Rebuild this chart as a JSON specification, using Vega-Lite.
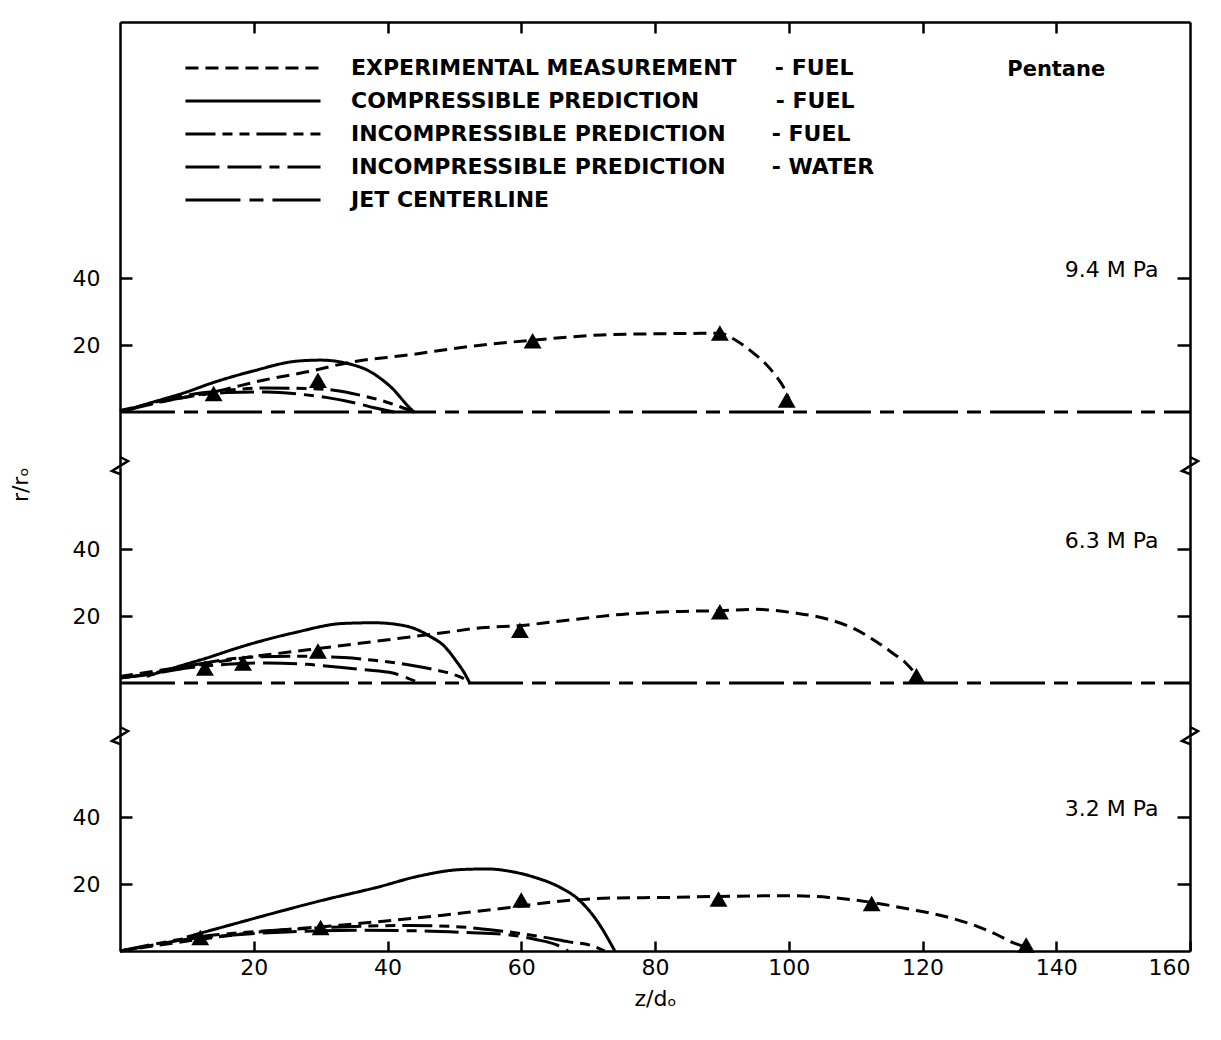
{
  "$schema": "https://vega.github.io/schema/vega-lite/v6.json",
  "background": "white",
  "padding": {"left": 9, "top": 20, "right": 5, "bottom": 5},
  "spacing": 0,
  "bounds": "flush",
  "resolve": {
    "scale": {"x": "independent", "y": "independent", "strokeDash": "independent"},
    "axis": {"x": "independent", "y": "independent"},
    "legend": {"strokeDash": "independent"}
  },
  "config": {
    "view": {"stroke": null},
    "font": "DejaVu Sans",
    "axis": {
      "grid": false,
      "domainColor": "black",
      "domainWidth": 2.5,
      "tickColor": "black",
      "tickWidth": 2.5,
      "labelColor": "black",
      "labelFont": "DejaVu Sans",
      "labelFontSize": 22,
      "titleColor": "black",
      "titleFont": "DejaVu Sans",
      "titleFontSize": 22,
      "titleFontWeight": "normal"
    }
  },
  "datasets": {
    "curves": [
      {"p":"9.4 MPa","s":"EXPERIMENTAL MEASUREMENT - FUEL","z":0,"r":0.5},
      {"p":"9.4 MPa","s":"EXPERIMENTAL MEASUREMENT - FUEL","z":8.5,"r":4},
      {"p":"9.4 MPa","s":"EXPERIMENTAL MEASUREMENT - FUEL","z":14,"r":6},
      {"p":"9.4 MPa","s":"EXPERIMENTAL MEASUREMENT - FUEL","z":21.4,"r":9.5},
      {"p":"9.4 MPa","s":"EXPERIMENTAL MEASUREMENT - FUEL","z":28,"r":12},
      {"p":"9.4 MPa","s":"EXPERIMENTAL MEASUREMENT - FUEL","z":34.8,"r":15},
      {"p":"9.4 MPa","s":"EXPERIMENTAL MEASUREMENT - FUEL","z":43,"r":17},
      {"p":"9.4 MPa","s":"EXPERIMENTAL MEASUREMENT - FUEL","z":52,"r":19.5},
      {"p":"9.4 MPa","s":"EXPERIMENTAL MEASUREMENT - FUEL","z":62,"r":21.5},
      {"p":"9.4 MPa","s":"EXPERIMENTAL MEASUREMENT - FUEL","z":72,"r":23},
      {"p":"9.4 MPa","s":"EXPERIMENTAL MEASUREMENT - FUEL","z":82,"r":23.4},
      {"p":"9.4 MPa","s":"EXPERIMENTAL MEASUREMENT - FUEL","z":89.7,"r":23.5},
      {"p":"9.4 MPa","s":"EXPERIMENTAL MEASUREMENT - FUEL","z":92,"r":21.5},
      {"p":"9.4 MPa","s":"EXPERIMENTAL MEASUREMENT - FUEL","z":94.6,"r":17.8},
      {"p":"9.4 MPa","s":"EXPERIMENTAL MEASUREMENT - FUEL","z":96.5,"r":14.5},
      {"p":"9.4 MPa","s":"EXPERIMENTAL MEASUREMENT - FUEL","z":98,"r":11},
      {"p":"9.4 MPa","s":"EXPERIMENTAL MEASUREMENT - FUEL","z":99.2,"r":7.5},
      {"p":"9.4 MPa","s":"EXPERIMENTAL MEASUREMENT - FUEL","z":100,"r":4},
      {"p":"9.4 MPa","s":"EXPERIMENTAL MEASUREMENT - FUEL","z":100.6,"r":0},
      {"p":"9.4 MPa","s":"COMPRESSIBLE PREDICTION - FUEL","z":0.5,"r":0.3},
      {"p":"9.4 MPa","s":"COMPRESSIBLE PREDICTION - FUEL","z":5,"r":3},
      {"p":"9.4 MPa","s":"COMPRESSIBLE PREDICTION - FUEL","z":10,"r":6},
      {"p":"9.4 MPa","s":"COMPRESSIBLE PREDICTION - FUEL","z":13.5,"r":8.5},
      {"p":"9.4 MPa","s":"COMPRESSIBLE PREDICTION - FUEL","z":20,"r":12.3},
      {"p":"9.4 MPa","s":"COMPRESSIBLE PREDICTION - FUEL","z":26.5,"r":15.2},
      {"p":"9.4 MPa","s":"COMPRESSIBLE PREDICTION - FUEL","z":30,"r":15.5},
      {"p":"9.4 MPa","s":"COMPRESSIBLE PREDICTION - FUEL","z":34.4,"r":14.3},
      {"p":"9.4 MPa","s":"COMPRESSIBLE PREDICTION - FUEL","z":37,"r":12.5},
      {"p":"9.4 MPa","s":"COMPRESSIBLE PREDICTION - FUEL","z":39.3,"r":9.5},
      {"p":"9.4 MPa","s":"COMPRESSIBLE PREDICTION - FUEL","z":41,"r":6.5},
      {"p":"9.4 MPa","s":"COMPRESSIBLE PREDICTION - FUEL","z":42.3,"r":3.5},
      {"p":"9.4 MPa","s":"COMPRESSIBLE PREDICTION - FUEL","z":43.3,"r":1.3},
      {"p":"9.4 MPa","s":"COMPRESSIBLE PREDICTION - FUEL","z":44,"r":0},
      {"p":"9.4 MPa","s":"INCOMPRESSIBLE PREDICTION - FUEL","z":0,"r":0},
      {"p":"9.4 MPa","s":"INCOMPRESSIBLE PREDICTION - FUEL","z":5,"r":2.8},
      {"p":"9.4 MPa","s":"INCOMPRESSIBLE PREDICTION - FUEL","z":10,"r":5},
      {"p":"9.4 MPa","s":"INCOMPRESSIBLE PREDICTION - FUEL","z":16,"r":6.5},
      {"p":"9.4 MPa","s":"INCOMPRESSIBLE PREDICTION - FUEL","z":22,"r":7.2},
      {"p":"9.4 MPa","s":"INCOMPRESSIBLE PREDICTION - FUEL","z":28,"r":7},
      {"p":"9.4 MPa","s":"INCOMPRESSIBLE PREDICTION - FUEL","z":32,"r":6.5},
      {"p":"9.4 MPa","s":"INCOMPRESSIBLE PREDICTION - FUEL","z":36,"r":5},
      {"p":"9.4 MPa","s":"INCOMPRESSIBLE PREDICTION - FUEL","z":39,"r":3.5},
      {"p":"9.4 MPa","s":"INCOMPRESSIBLE PREDICTION - FUEL","z":42,"r":1.5},
      {"p":"9.4 MPa","s":"INCOMPRESSIBLE PREDICTION - FUEL","z":44,"r":0},
      {"p":"9.4 MPa","s":"INCOMPRESSIBLE PREDICTION - WATER","z":0,"r":0},
      {"p":"9.4 MPa","s":"INCOMPRESSIBLE PREDICTION - WATER","z":5,"r":2.5},
      {"p":"9.4 MPa","s":"INCOMPRESSIBLE PREDICTION - WATER","z":10,"r":4.5},
      {"p":"9.4 MPa","s":"INCOMPRESSIBLE PREDICTION - WATER","z":16,"r":5.8},
      {"p":"9.4 MPa","s":"INCOMPRESSIBLE PREDICTION - WATER","z":22,"r":6},
      {"p":"9.4 MPa","s":"INCOMPRESSIBLE PREDICTION - WATER","z":27,"r":5.3},
      {"p":"9.4 MPa","s":"INCOMPRESSIBLE PREDICTION - WATER","z":31,"r":4.3},
      {"p":"9.4 MPa","s":"INCOMPRESSIBLE PREDICTION - WATER","z":35,"r":2.8},
      {"p":"9.4 MPa","s":"INCOMPRESSIBLE PREDICTION - WATER","z":38,"r":1.3},
      {"p":"9.4 MPa","s":"INCOMPRESSIBLE PREDICTION - WATER","z":41,"r":0},
      {"p":"9.4 MPa","s":"JET CENTERLINE","z":0,"r":0},
      {"p":"9.4 MPa","s":"JET CENTERLINE","z":160,"r":0},

      {"p":"6.3 MPa","s":"EXPERIMENTAL MEASUREMENT - FUEL","z":0,"r":2},
      {"p":"6.3 MPa","s":"EXPERIMENTAL MEASUREMENT - FUEL","z":6,"r":3.8},
      {"p":"6.3 MPa","s":"EXPERIMENTAL MEASUREMENT - FUEL","z":12,"r":5.5},
      {"p":"6.3 MPa","s":"EXPERIMENTAL MEASUREMENT - FUEL","z":18.4,"r":7.5},
      {"p":"6.3 MPa","s":"EXPERIMENTAL MEASUREMENT - FUEL","z":28.4,"r":10},
      {"p":"6.3 MPa","s":"EXPERIMENTAL MEASUREMENT - FUEL","z":38.4,"r":12.5},
      {"p":"6.3 MPa","s":"EXPERIMENTAL MEASUREMENT - FUEL","z":48.3,"r":15},
      {"p":"6.3 MPa","s":"EXPERIMENTAL MEASUREMENT - FUEL","z":54,"r":16.5},
      {"p":"6.3 MPa","s":"EXPERIMENTAL MEASUREMENT - FUEL","z":60,"r":17.2},
      {"p":"6.3 MPa","s":"EXPERIMENTAL MEASUREMENT - FUEL","z":65,"r":18.3},
      {"p":"6.3 MPa","s":"EXPERIMENTAL MEASUREMENT - FUEL","z":75,"r":20.5},
      {"p":"6.3 MPa","s":"EXPERIMENTAL MEASUREMENT - FUEL","z":84,"r":21.4},
      {"p":"6.3 MPa","s":"EXPERIMENTAL MEASUREMENT - FUEL","z":89.7,"r":21.6},
      {"p":"6.3 MPa","s":"EXPERIMENTAL MEASUREMENT - FUEL","z":95,"r":22},
      {"p":"6.3 MPa","s":"EXPERIMENTAL MEASUREMENT - FUEL","z":101,"r":20.9},
      {"p":"6.3 MPa","s":"EXPERIMENTAL MEASUREMENT - FUEL","z":106,"r":19},
      {"p":"6.3 MPa","s":"EXPERIMENTAL MEASUREMENT - FUEL","z":110,"r":16},
      {"p":"6.3 MPa","s":"EXPERIMENTAL MEASUREMENT - FUEL","z":113,"r":12.5},
      {"p":"6.3 MPa","s":"EXPERIMENTAL MEASUREMENT - FUEL","z":115.5,"r":9},
      {"p":"6.3 MPa","s":"EXPERIMENTAL MEASUREMENT - FUEL","z":117.5,"r":6},
      {"p":"6.3 MPa","s":"EXPERIMENTAL MEASUREMENT - FUEL","z":119,"r":2.5},
      {"p":"6.3 MPa","s":"EXPERIMENTAL MEASUREMENT - FUEL","z":119.8,"r":0},
      {"p":"6.3 MPa","s":"COMPRESSIBLE PREDICTION - FUEL","z":4,"r":2},
      {"p":"6.3 MPa","s":"COMPRESSIBLE PREDICTION - FUEL","z":8.5,"r":4.8},
      {"p":"6.3 MPa","s":"COMPRESSIBLE PREDICTION - FUEL","z":13,"r":7.5},
      {"p":"6.3 MPa","s":"COMPRESSIBLE PREDICTION - FUEL","z":18.4,"r":11},
      {"p":"6.3 MPa","s":"COMPRESSIBLE PREDICTION - FUEL","z":26,"r":15},
      {"p":"6.3 MPa","s":"COMPRESSIBLE PREDICTION - FUEL","z":33.4,"r":17.8},
      {"p":"6.3 MPa","s":"COMPRESSIBLE PREDICTION - FUEL","z":38,"r":18},
      {"p":"6.3 MPa","s":"COMPRESSIBLE PREDICTION - FUEL","z":41.4,"r":17.5},
      {"p":"6.3 MPa","s":"COMPRESSIBLE PREDICTION - FUEL","z":44,"r":16.3},
      {"p":"6.3 MPa","s":"COMPRESSIBLE PREDICTION - FUEL","z":46.3,"r":14},
      {"p":"6.3 MPa","s":"COMPRESSIBLE PREDICTION - FUEL","z":48.5,"r":11},
      {"p":"6.3 MPa","s":"COMPRESSIBLE PREDICTION - FUEL","z":50.3,"r":6.5},
      {"p":"6.3 MPa","s":"COMPRESSIBLE PREDICTION - FUEL","z":51.5,"r":3},
      {"p":"6.3 MPa","s":"COMPRESSIBLE PREDICTION - FUEL","z":52.3,"r":0},
      {"p":"6.3 MPa","s":"INCOMPRESSIBLE PREDICTION - FUEL","z":0,"r":1.5},
      {"p":"6.3 MPa","s":"INCOMPRESSIBLE PREDICTION - FUEL","z":5,"r":3},
      {"p":"6.3 MPa","s":"INCOMPRESSIBLE PREDICTION - FUEL","z":10,"r":5},
      {"p":"6.3 MPa","s":"INCOMPRESSIBLE PREDICTION - FUEL","z":15,"r":6.8},
      {"p":"6.3 MPa","s":"INCOMPRESSIBLE PREDICTION - FUEL","z":20.5,"r":7.8},
      {"p":"6.3 MPa","s":"INCOMPRESSIBLE PREDICTION - FUEL","z":27,"r":8},
      {"p":"6.3 MPa","s":"INCOMPRESSIBLE PREDICTION - FUEL","z":33.4,"r":7.6},
      {"p":"6.3 MPa","s":"INCOMPRESSIBLE PREDICTION - FUEL","z":38,"r":6.8},
      {"p":"6.3 MPa","s":"INCOMPRESSIBLE PREDICTION - FUEL","z":43.3,"r":5.4},
      {"p":"6.3 MPa","s":"INCOMPRESSIBLE PREDICTION - FUEL","z":47,"r":4},
      {"p":"6.3 MPa","s":"INCOMPRESSIBLE PREDICTION - FUEL","z":50,"r":2.5},
      {"p":"6.3 MPa","s":"INCOMPRESSIBLE PREDICTION - FUEL","z":51.5,"r":1.2},
      {"p":"6.3 MPa","s":"INCOMPRESSIBLE PREDICTION - FUEL","z":52.3,"r":0},
      {"p":"6.3 MPa","s":"INCOMPRESSIBLE PREDICTION - WATER","z":0,"r":1.5},
      {"p":"6.3 MPa","s":"INCOMPRESSIBLE PREDICTION - WATER","z":5,"r":2.8},
      {"p":"6.3 MPa","s":"INCOMPRESSIBLE PREDICTION - WATER","z":10,"r":4.5},
      {"p":"6.3 MPa","s":"INCOMPRESSIBLE PREDICTION - WATER","z":16,"r":5.6},
      {"p":"6.3 MPa","s":"INCOMPRESSIBLE PREDICTION - WATER","z":22,"r":6},
      {"p":"6.3 MPa","s":"INCOMPRESSIBLE PREDICTION - WATER","z":28,"r":5.6},
      {"p":"6.3 MPa","s":"INCOMPRESSIBLE PREDICTION - WATER","z":32.4,"r":4.8},
      {"p":"6.3 MPa","s":"INCOMPRESSIBLE PREDICTION - WATER","z":36.5,"r":4},
      {"p":"6.3 MPa","s":"INCOMPRESSIBLE PREDICTION - WATER","z":40.8,"r":3},
      {"p":"6.3 MPa","s":"INCOMPRESSIBLE PREDICTION - WATER","z":43,"r":1.5},
      {"p":"6.3 MPa","s":"INCOMPRESSIBLE PREDICTION - WATER","z":44.8,"r":0},
      {"p":"6.3 MPa","s":"JET CENTERLINE","z":0,"r":0},
      {"p":"6.3 MPa","s":"JET CENTERLINE","z":160,"r":0},

      {"p":"3.2 MPa","s":"EXPERIMENTAL MEASUREMENT - FUEL","z":0,"r":0},
      {"p":"3.2 MPa","s":"EXPERIMENTAL MEASUREMENT - FUEL","z":5,"r":1.5},
      {"p":"3.2 MPa","s":"EXPERIMENTAL MEASUREMENT - FUEL","z":13.5,"r":3.9},
      {"p":"3.2 MPa","s":"EXPERIMENTAL MEASUREMENT - FUEL","z":20,"r":5.5},
      {"p":"3.2 MPa","s":"EXPERIMENTAL MEASUREMENT - FUEL","z":33.4,"r":7.8},
      {"p":"3.2 MPa","s":"EXPERIMENTAL MEASUREMENT - FUEL","z":48.3,"r":10.7},
      {"p":"3.2 MPa","s":"EXPERIMENTAL MEASUREMENT - FUEL","z":58.3,"r":13},
      {"p":"3.2 MPa","s":"EXPERIMENTAL MEASUREMENT - FUEL","z":65,"r":14.7},
      {"p":"3.2 MPa","s":"EXPERIMENTAL MEASUREMENT - FUEL","z":73.2,"r":15.8},
      {"p":"3.2 MPa","s":"EXPERIMENTAL MEASUREMENT - FUEL","z":82,"r":16},
      {"p":"3.2 MPa","s":"EXPERIMENTAL MEASUREMENT - FUEL","z":89.5,"r":16.3},
      {"p":"3.2 MPa","s":"EXPERIMENTAL MEASUREMENT - FUEL","z":100,"r":16.5},
      {"p":"3.2 MPa","s":"EXPERIMENTAL MEASUREMENT - FUEL","z":106,"r":16},
      {"p":"3.2 MPa","s":"EXPERIMENTAL MEASUREMENT - FUEL","z":112.4,"r":14.5},
      {"p":"3.2 MPa","s":"EXPERIMENTAL MEASUREMENT - FUEL","z":118,"r":12.5},
      {"p":"3.2 MPa","s":"EXPERIMENTAL MEASUREMENT - FUEL","z":124,"r":10},
      {"p":"3.2 MPa","s":"EXPERIMENTAL MEASUREMENT - FUEL","z":128,"r":7.5},
      {"p":"3.2 MPa","s":"EXPERIMENTAL MEASUREMENT - FUEL","z":131,"r":5},
      {"p":"3.2 MPa","s":"EXPERIMENTAL MEASUREMENT - FUEL","z":133.5,"r":2.5},
      {"p":"3.2 MPa","s":"EXPERIMENTAL MEASUREMENT - FUEL","z":135.5,"r":0.8},
      {"p":"3.2 MPa","s":"EXPERIMENTAL MEASUREMENT - FUEL","z":136,"r":0},
      {"p":"3.2 MPa","s":"COMPRESSIBLE PREDICTION - FUEL","z":10,"r":4.2},
      {"p":"3.2 MPa","s":"COMPRESSIBLE PREDICTION - FUEL","z":16,"r":7.5},
      {"p":"3.2 MPa","s":"COMPRESSIBLE PREDICTION - FUEL","z":23.5,"r":11.6},
      {"p":"3.2 MPa","s":"COMPRESSIBLE PREDICTION - FUEL","z":30,"r":15},
      {"p":"3.2 MPa","s":"COMPRESSIBLE PREDICTION - FUEL","z":38.4,"r":19},
      {"p":"3.2 MPa","s":"COMPRESSIBLE PREDICTION - FUEL","z":45,"r":22.5},
      {"p":"3.2 MPa","s":"COMPRESSIBLE PREDICTION - FUEL","z":50.8,"r":24.3},
      {"p":"3.2 MPa","s":"COMPRESSIBLE PREDICTION - FUEL","z":55,"r":24.5},
      {"p":"3.2 MPa","s":"COMPRESSIBLE PREDICTION - FUEL","z":58.3,"r":23.8},
      {"p":"3.2 MPa","s":"COMPRESSIBLE PREDICTION - FUEL","z":62,"r":22},
      {"p":"3.2 MPa","s":"COMPRESSIBLE PREDICTION - FUEL","z":65.8,"r":19},
      {"p":"3.2 MPa","s":"COMPRESSIBLE PREDICTION - FUEL","z":68.5,"r":15.5},
      {"p":"3.2 MPa","s":"COMPRESSIBLE PREDICTION - FUEL","z":70.7,"r":10.7},
      {"p":"3.2 MPa","s":"COMPRESSIBLE PREDICTION - FUEL","z":72.3,"r":6},
      {"p":"3.2 MPa","s":"COMPRESSIBLE PREDICTION - FUEL","z":73.3,"r":2.5},
      {"p":"3.2 MPa","s":"COMPRESSIBLE PREDICTION - FUEL","z":74,"r":0},
      {"p":"3.2 MPa","s":"INCOMPRESSIBLE PREDICTION - FUEL","z":0,"r":0},
      {"p":"3.2 MPa","s":"INCOMPRESSIBLE PREDICTION - FUEL","z":5,"r":2},
      {"p":"3.2 MPa","s":"INCOMPRESSIBLE PREDICTION - FUEL","z":10,"r":3.8},
      {"p":"3.2 MPa","s":"INCOMPRESSIBLE PREDICTION - FUEL","z":17,"r":5.3},
      {"p":"3.2 MPa","s":"INCOMPRESSIBLE PREDICTION - FUEL","z":25,"r":6.4},
      {"p":"3.2 MPa","s":"INCOMPRESSIBLE PREDICTION - FUEL","z":33,"r":7.2},
      {"p":"3.2 MPa","s":"INCOMPRESSIBLE PREDICTION - FUEL","z":43.3,"r":7.6},
      {"p":"3.2 MPa","s":"INCOMPRESSIBLE PREDICTION - FUEL","z":50,"r":7.3},
      {"p":"3.2 MPa","s":"INCOMPRESSIBLE PREDICTION - FUEL","z":55,"r":6.4},
      {"p":"3.2 MPa","s":"INCOMPRESSIBLE PREDICTION - FUEL","z":60,"r":5.2},
      {"p":"3.2 MPa","s":"INCOMPRESSIBLE PREDICTION - FUEL","z":63.2,"r":4.2},
      {"p":"3.2 MPa","s":"INCOMPRESSIBLE PREDICTION - FUEL","z":67,"r":2.8},
      {"p":"3.2 MPa","s":"INCOMPRESSIBLE PREDICTION - FUEL","z":70.7,"r":1.5},
      {"p":"3.2 MPa","s":"INCOMPRESSIBLE PREDICTION - FUEL","z":72.5,"r":0},
      {"p":"3.2 MPa","s":"INCOMPRESSIBLE PREDICTION - WATER","z":0,"r":0},
      {"p":"3.2 MPa","s":"INCOMPRESSIBLE PREDICTION - WATER","z":5,"r":1.8},
      {"p":"3.2 MPa","s":"INCOMPRESSIBLE PREDICTION - WATER","z":10,"r":3.5},
      {"p":"3.2 MPa","s":"INCOMPRESSIBLE PREDICTION - WATER","z":17,"r":4.8},
      {"p":"3.2 MPa","s":"INCOMPRESSIBLE PREDICTION - WATER","z":25,"r":5.7},
      {"p":"3.2 MPa","s":"INCOMPRESSIBLE PREDICTION - WATER","z":35,"r":6.2},
      {"p":"3.2 MPa","s":"INCOMPRESSIBLE PREDICTION - WATER","z":45,"r":6},
      {"p":"3.2 MPa","s":"INCOMPRESSIBLE PREDICTION - WATER","z":52,"r":5.5},
      {"p":"3.2 MPa","s":"INCOMPRESSIBLE PREDICTION - WATER","z":58.3,"r":4.8},
      {"p":"3.2 MPa","s":"INCOMPRESSIBLE PREDICTION - WATER","z":62,"r":3.5},
      {"p":"3.2 MPa","s":"INCOMPRESSIBLE PREDICTION - WATER","z":65.3,"r":1.8},
      {"p":"3.2 MPa","s":"INCOMPRESSIBLE PREDICTION - WATER","z":67,"r":0}
    ],
    "points": [
      {"p":"9.4 MPa","z":14,"r":5.5},
      {"p":"9.4 MPa","z":29.6,"r":9.5},
      {"p":"9.4 MPa","z":61.7,"r":21.3},
      {"p":"9.4 MPa","z":89.7,"r":23.6},
      {"p":"9.4 MPa","z":99.7,"r":3.6},
      {"p":"6.3 MPa","z":12.7,"r":4.5},
      {"p":"6.3 MPa","z":18.4,"r":6},
      {"p":"6.3 MPa","z":29.6,"r":9.6},
      {"p":"6.3 MPa","z":59.8,"r":15.8},
      {"p":"6.3 MPa","z":89.7,"r":21.3},
      {"p":"6.3 MPa","z":119.1,"r":2.2},
      {"p":"3.2 MPa","z":12,"r":4},
      {"p":"3.2 MPa","z":30,"r":7},
      {"p":"3.2 MPa","z":60,"r":15.2},
      {"p":"3.2 MPa","z":89.5,"r":15.5},
      {"p":"3.2 MPa","z":112.4,"r":14.2},
      {"p":"3.2 MPa","z":135.5,"r":1.8}
    ],
    "edges": [{"z": 0}, {"z": 160}]
  },
  "vconcat": [
    {
      "width": 1070,
      "height": 445,
      "resolve": {"axis": {"x": "independent", "y": "independent"}},
      "layer": [
        {
          "data": {"name": "curves"},
          "transform": [{"filter": "datum.p == '9.4 MPa'"}],
          "mark": {"type": "line", "interpolate": "monotone", "strokeWidth": 3, "color": "black"},
          "encoding": {
            "x": {"field": "z", "type": "quantitative", "scale": {"domain": [0, 160], "nice": false},
                  "axis": {"orient": "top", "values": [20, 40, 60, 80, 100, 120, 140], "labels": false, "tickSize": -11, "title": null}},
            "y": {"field": "r", "type": "quantitative", "scale": {"domain": [-16.4, 116.4], "nice": false, "zero": false},
                  "axis": {"orient": "left", "values": [20, 40], "tickSize": -12, "labelPadding": 32, "title": null}},
            "strokeDash": {"field": "s", "type": "nominal",
              "scale": {"domain": ["EXPERIMENTAL MEASUREMENT - FUEL", "COMPRESSIBLE PREDICTION - FUEL", "INCOMPRESSIBLE PREDICTION - FUEL", "INCOMPRESSIBLE PREDICTION - WATER", "JET CENTERLINE"],
                        "range": [[13, 7], [1, 0], [30, 7, 10, 7, 10, 7], [34, 8, 34, 8, 10, 8], [55, 9, 14, 9]]},
              "legend": {
                "title": null, "orient": "none", "legendX": 122, "legendY": 35, "padding": 0,
                "symbolType": "M-8,0H8", "symbolSize": 285, "symbolStrokeWidth": 3, "symbolStrokeColor": "black", "symbolFillColor": "transparent",
                "labelFont": "DejaVu Sans", "labelFontSize": 22, "labelFontWeight": "bold", "labelColor": "black",
                "labelOffset": 87, "rowPadding": 11, "labelLimit": 700,
                "labelExpr": "datum.value == 'EXPERIMENTAL MEASUREMENT - FUEL' ? 'EXPERIMENTAL MEASUREMENT\u00a0\u00a0\u00a0\u00a0\u00a0- FUEL' : datum.value == 'COMPRESSIBLE PREDICTION - FUEL' ? 'COMPRESSIBLE PREDICTION\u00a0\u00a0\u00a0\u00a0\u00a0\u00a0\u00a0\u00a0\u00a0\u00a0- FUEL' : datum.value == 'INCOMPRESSIBLE PREDICTION - FUEL' ? 'INCOMPRESSIBLE PREDICTION\u00a0\u00a0\u00a0\u00a0\u00a0\u00a0- FUEL' : datum.value == 'INCOMPRESSIBLE PREDICTION - WATER' ? 'INCOMPRESSIBLE PREDICTION\u00a0\u00a0\u00a0\u00a0\u00a0\u00a0- WATER' : datum.value"
              }
            }
          }
        },
        {
          "data": {"name": "points"},
          "transform": [{"filter": "datum.p == '9.4 MPa'"}],
          "mark": {"type": "point", "shape": "triangle-up", "filled": true, "color": "black", "opacity": 1, "size": 320},
          "encoding": {
            "x": {"field": "z", "type": "quantitative", "scale": {"domain": [0, 160], "nice": false}, "axis": null},
            "y": {"field": "r", "type": "quantitative", "scale": {"domain": [-16.4, 116.4], "nice": false, "zero": false},
                  "axis": {"orient": "right", "values": [20, 40], "tickSize": -13, "labelPadding": -19, "labelAlign": "right", "labelBaseline": "alphabetic", "labelOffset": -2, "labelExpr": "datum.value == 40 ? '9.4 M Pa' : ''", "title": null}}
          }
        },
        {
          "data": {"name": "edges"},
          "mark": {"type": "point", "shape": "M0,-1L0.8,-0.6L-0.8,0.4L0,0.7", "filled": false, "color": "black", "opacity": 1, "strokeWidth": 2.5, "size": 400},
          "encoding": {
            "x": {"field": "z", "type": "quantitative", "scale": {"domain": [0, 160], "nice": false}, "axis": null},
            "y": {"datum": -16.4, "type": "quantitative", "axis": null}
          }
        },
        {
          "data": {"values": [{"t": "Pentane"}]},
          "mark": {"type": "text", "font": "DejaVu Sans", "fontSize": 21, "fontWeight": "bold", "color": "black", "align": "center", "baseline": "middle"},
          "encoding": {
            "x": {"datum": 140, "type": "quantitative", "axis": null},
            "y": {"datum": 102, "type": "quantitative", "axis": null},
            "text": {"field": "t"}
          }
        }
      ]
    },
    {
      "width": 1070,
      "height": 270,
      "resolve": {"axis": {"x": "independent", "y": "independent"}},
      "layer": [
        {
          "data": {"name": "curves"},
          "transform": [{"filter": "datum.p == '6.3 MPa'"}],
          "mark": {"type": "line", "interpolate": "monotone", "strokeWidth": 3, "color": "black"},
          "encoding": {
            "x": {"field": "z", "type": "quantitative", "scale": {"domain": [0, 160], "nice": false}, "axis": null},
            "y": {"field": "r", "type": "quantitative", "scale": {"domain": [-16.1, 64.5], "nice": false, "zero": false},
                  "axis": {"orient": "left", "values": [20, 40], "tickSize": -12, "labelPadding": 32, "title": "r/rₒ", "titleAnchor": "end", "titlePadding": 40}},
            "strokeDash": {"field": "s", "type": "nominal",
              "scale": {"domain": ["EXPERIMENTAL MEASUREMENT - FUEL", "COMPRESSIBLE PREDICTION - FUEL", "INCOMPRESSIBLE PREDICTION - FUEL", "INCOMPRESSIBLE PREDICTION - WATER", "JET CENTERLINE"],
                        "range": [[13, 7], [1, 0], [30, 7, 10, 7, 10, 7], [34, 8, 34, 8, 10, 8], [55, 9, 14, 9]]},
              "legend": null
            }
          }
        },
        {
          "data": {"name": "points"},
          "transform": [{"filter": "datum.p == '6.3 MPa'"}],
          "mark": {"type": "point", "shape": "triangle-up", "filled": true, "color": "black", "opacity": 1, "size": 320},
          "encoding": {
            "x": {"field": "z", "type": "quantitative", "scale": {"domain": [0, 160], "nice": false}, "axis": null},
            "y": {"field": "r", "type": "quantitative", "scale": {"domain": [-16.1, 64.5], "nice": false, "zero": false},
                  "axis": {"orient": "right", "values": [20, 40], "tickSize": -13, "labelPadding": -19, "labelAlign": "right", "labelBaseline": "alphabetic", "labelOffset": -2, "labelExpr": "datum.value == 40 ? '6.3 M Pa' : ''", "title": null}}
          }
        },
        {
          "data": {"name": "edges"},
          "mark": {"type": "point", "shape": "M0,-1L0.8,-0.6L-0.8,0.4L0,0.7", "filled": false, "color": "black", "opacity": 1, "strokeWidth": 2.5, "size": 400},
          "encoding": {
            "x": {"field": "z", "type": "quantitative", "scale": {"domain": [0, 160], "nice": false}, "axis": null},
            "y": {"datum": -16.1, "type": "quantitative", "axis": null}
          }
        }
      ]
    },
    {
      "width": 1070,
      "height": 214,
      "resolve": {"axis": {"x": "independent", "y": "independent"}},
      "layer": [
        {
          "data": {"name": "curves"},
          "transform": [{"filter": "datum.p == '3.2 MPa'"}],
          "mark": {"type": "line", "interpolate": "monotone", "strokeWidth": 3, "color": "black"},
          "encoding": {
            "x": {"field": "z", "type": "quantitative", "scale": {"domain": [0, 160], "nice": false},
                  "axis": {"orient": "bottom", "values": [20, 40, 60, 80, 100, 120, 140, 160], "tickSize": -10, "labelPadding": 16, "title": "z/dₒ", "titlePadding": 10}},
            "y": {"field": "r", "type": "quantitative", "scale": {"domain": [0, 63.9], "nice": false, "zero": false},
                  "axis": {"orient": "left", "values": [20, 40], "tickSize": -12, "labelPadding": 32, "title": null}},
            "strokeDash": {"field": "s", "type": "nominal",
              "scale": {"domain": ["EXPERIMENTAL MEASUREMENT - FUEL", "COMPRESSIBLE PREDICTION - FUEL", "INCOMPRESSIBLE PREDICTION - FUEL", "INCOMPRESSIBLE PREDICTION - WATER", "JET CENTERLINE"],
                        "range": [[13, 7], [1, 0], [30, 7, 10, 7, 10, 7], [34, 8, 34, 8, 10, 8], [55, 9, 14, 9]]},
              "legend": null
            }
          }
        },
        {
          "data": {"name": "points"},
          "transform": [{"filter": "datum.p == '3.2 MPa'"}],
          "mark": {"type": "point", "shape": "triangle-up", "filled": true, "color": "black", "opacity": 1, "size": 320},
          "encoding": {
            "x": {"field": "z", "type": "quantitative", "scale": {"domain": [0, 160], "nice": false}, "axis": null},
            "y": {"field": "r", "type": "quantitative", "scale": {"domain": [0, 63.9], "nice": false, "zero": false},
                  "axis": {"orient": "right", "values": [20, 40], "tickSize": -13, "labelPadding": -19, "labelAlign": "right", "labelBaseline": "alphabetic", "labelOffset": -2, "labelExpr": "datum.value == 40 ? '3.2 M Pa' : ''", "title": null}}
          }
        }
      ]
    }
  ]
}
